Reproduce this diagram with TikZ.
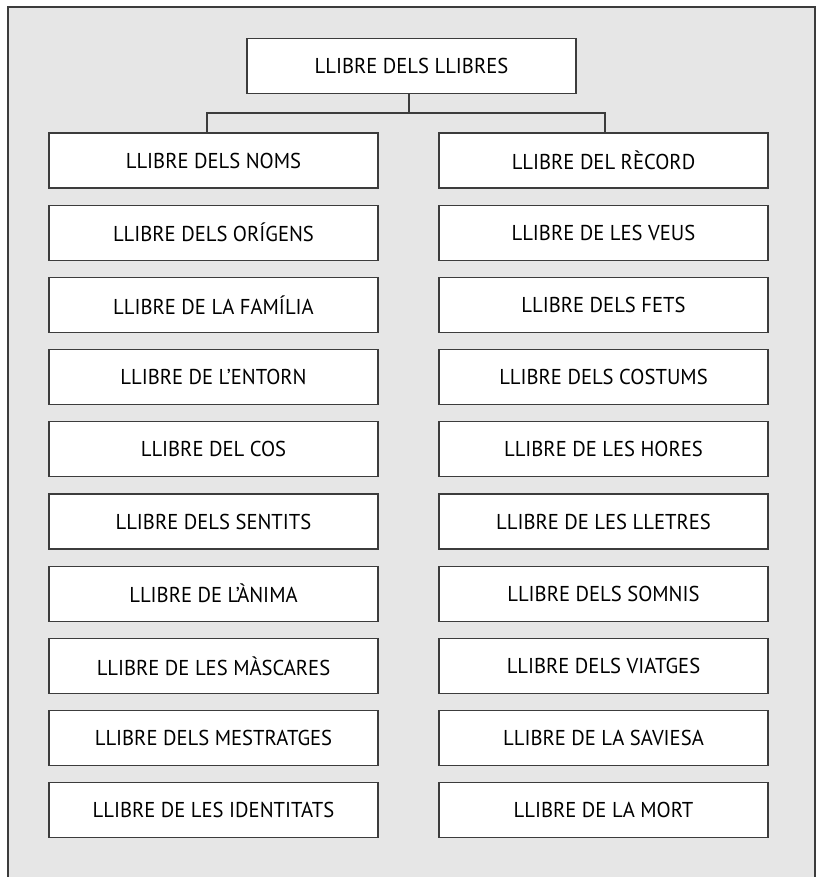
\documentclass[tikz,border=0pt]{standalone}
\usepackage{fontspec}
\setmainfont{PT Sans}[FakeStretch=0.96]
\usepackage{tikz}
\usetikzlibrary{positioning, calc}

\definecolor{panelgray}{HTML}{E6E6E6}
\definecolor{linegray}{HTML}{3C3C3C}

\begin{document}
\begin{tikzpicture}[
    % GLOBAL SETTINGS
    x=1pt, y=-1pt,
    line width=1.1pt,
    % STYLES
    book/.style={rectangle, draw=linegray, fill=white, minimum width=329pt, minimum height=55pt, inner sep=0pt, font=\fontsize{21.5}{24}\selectfont},
    edge/.style={draw=linegray, line width=1.1pt, -}
]

    \useasboundingbox (0,0) rectangle (819,877);

    % panel
    \fill[panelgray] (8,7) rectangle (815,877);
    \draw[linegray] (8,877) |- (815,7) -- (815,877);

    \def\pitch{72.2}

    \node[book] (top) at (411.5,66) {LLIBRE DELS LLIBRES};

    % Left column
    \foreach \i/\lbl in {1/LLIBRE DELS NOMS, 2/LLIBRE DELS ORÍGENS, 3/LLIBRE DE LA FAMÍLIA,
        4/LLIBRE DE L’ENTORN, 5/LLIBRE DEL COS, 6/LLIBRE DELS SENTITS, 7/LLIBRE DE L’ÀNIMA,
        8/LLIBRE DE LES MÀSCARES, 9/LLIBRE DELS MESTRATGES, 10/LLIBRE DE LES IDENTITATS} {
        \node[book] (l\i) at (213.5,{160.5+(\i-1)*\pitch}) {\lbl};
    }

    % Right column
    \foreach \i/\lbl in {1/LLIBRE DEL RÈCORD, 2/LLIBRE DE LES VEUS, 3/LLIBRE DELS FETS,
        4/LLIBRE DELS COSTUMS, 5/LLIBRE DE LES HORES, 6/LLIBRE DE LES LLETRES,
        7/LLIBRE DELS SOMNIS, 8/LLIBRE DELS VIATGES, 9/LLIBRE DE LA SAVIESA, 10/LLIBRE DE LA MORT} {
        \node[book] (r\i) at (603.5,{160.5+(\i-1)*\pitch}) {\lbl};
    }

    \coordinate (fork) at ($(top.south)+(-2.5,19)$);
    \draw[edge] ([xshift=-2.5pt]top.south) -- (fork);
    \draw[edge] ([xshift=-6.5pt]l1.north) |- (fork) -| ([xshift=1.5pt]r1.north);

\end{tikzpicture}
\end{document}
